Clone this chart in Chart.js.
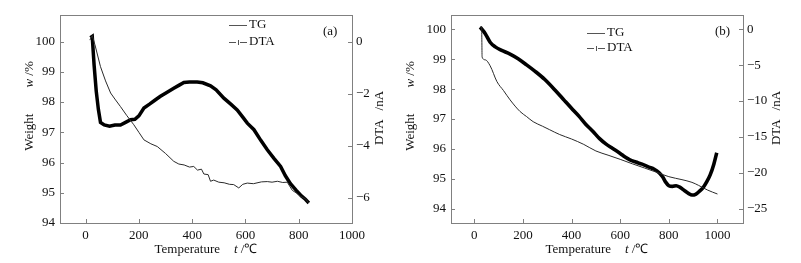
<!DOCTYPE html>
<html>
<head>
<meta charset="utf-8">
<script src="https://cdn.jsdelivr.net/npm/chart.js@4.4.1/dist/chart.umd.min.js"></script>
<style>
  html, body { margin: 0; padding: 0; background: #fff; }
  #wrap { position: relative; width: 801px; height: 263px; overflow: hidden; }
  canvas { position: absolute; top: 0; }
</style>
</head>
<body>
<div id="wrap">
  <canvas id="chartA" width="400" height="263" style="left:0"></canvas>
  <canvas id="chartB" width="401" height="263" style="left:400px"></canvas>
</div>
<script>
// Panel (a) - TG (weight %) y DTA (nA) frente a temperatura
const tgA_T = [16, 25, 35, 56, 75, 94, 110, 131, 155, 181, 200, 219, 245, 269, 300, 331, 350, 370, 390, 406, 420, 435, 444, 460, 469, 481, 500, 520, 540, 556, 575, 590, 607, 630, 660, 682, 700, 720, 740, 757, 776, 790, 807, 825, 838];
const tgA_w = [100.05, 100.2, 99.9, 99.17, 98.7, 98.3, 98.1, 97.85, 97.55, 97.25, 97.0, 96.75, 96.62, 96.53, 96.3, 96.04, 95.95, 95.92, 95.85, 95.87, 95.75, 95.78, 95.62, 95.6, 95.38, 95.42, 95.35, 95.33, 95.28, 95.27, 95.16, 95.28, 95.32, 95.3, 95.36, 95.37, 95.35, 95.38, 95.34, 95.35, 95.08, 95.0, 94.88, 94.8, 94.66];
const dtaA_T = [18, 25, 32, 40, 48, 56, 70, 90, 110, 131, 150, 169, 185, 200, 219, 240, 260, 281, 300, 331, 350, 369, 390, 419, 440, 469, 490, 519, 545, 569, 590, 607, 632, 657, 682, 707, 732, 750, 769, 790, 810, 825, 838];
const dtaA_D = [0.15, 0.2, -0.9, -1.9, -2.6, -3.1, -3.2, -3.25, -3.2, -3.2, -3.1, -3.0, -2.98, -2.85, -2.55, -2.4, -2.25, -2.1, -1.98, -1.79, -1.68, -1.57, -1.55, -1.55, -1.58, -1.7, -1.85, -2.17, -2.4, -2.62, -2.9, -3.13, -3.38, -3.78, -4.15, -4.48, -4.79, -5.15, -5.45, -5.7, -5.92, -6.05, -6.19];

// Panel (b)
const tgB_T = [24, 30, 32, 45, 65, 93, 120, 147, 188, 215, 242, 280, 310, 351, 400, 450, 500, 550, 600, 650, 700, 759, 800, 854, 895, 922, 960, 1000];
const tgB_w = [100.09, 100.05, 99.07, 98.98, 98.78, 98.25, 97.95, 97.64, 97.25, 97.08, 96.91, 96.76, 96.64, 96.48, 96.33, 96.15, 95.93, 95.79, 95.65, 95.5, 95.36, 95.19, 95.07, 94.97, 94.88, 94.78, 94.62, 94.49];
const dtaB_T = [24, 45, 65, 86, 110, 147, 180, 215, 250, 290, 338, 370, 405, 430, 460, 487, 514, 542, 569, 600, 620, 640, 664, 690, 718, 740, 760, 775, 787, 800, 815, 830, 845, 865, 882, 895, 910, 925, 940, 955, 970, 985, 997];
const dtaB_D = [0.3, -0.6, -1.8, -2.45, -2.9, -3.45, -4.1, -4.95, -5.85, -7.0, -8.7, -9.9, -11.2, -12.1, -13.3, -14.2, -15.2, -16.0, -16.6, -17.3, -17.8, -18.2, -18.5, -18.8, -19.2, -19.5, -20.0, -20.6, -21.3, -21.8, -21.9, -21.8, -22.0, -22.5, -22.9, -23.1, -23.0, -22.6, -22.1, -21.3, -20.3, -18.8, -17.2];

// Ticks
const xTicks = [0, 200, 400, 600, 800, 1000];
const yLeftTicks = [94, 95, 96, 97, 98, 99, 100];
const yRightTicksA = [-6, -4, -2, 0];
const yRightTicksB = [-25, -20, -15, -10, -5, 0];

const FONT = "'Liberation Serif', 'Times New Roman', serif";
const GRIS = "#808080";

function puntos(xs, ys) {
  return xs.map((x, i) => ({ x, y: ys[i] }));
}

// texto con partes en cursiva, centrado en (cx, cy), con rotacion opcional
function textoMixto(ctx, partes, cx, cy, rot, size) {
  ctx.save();
  ctx.translate(cx, cy);
  ctx.rotate(rot);
  ctx.textBaseline = "middle";
  ctx.fillStyle = "#111";
  let total = 0;
  partes.forEach(p => {
    ctx.font = (p.italic ? "italic " : "") + size + "px " + FONT;
    p.w = ctx.measureText(p.t).width;
    total += p.w + (p.gap || 0);
  });
  let x = -total / 2;
  partes.forEach(p => {
    ctx.font = (p.italic ? "italic " : "") + size + "px " + FONT;
    ctx.fillText(p.t, x, 0);
    x += p.w + (p.gap || 0);
  });
  ctx.restore();
}

function crearGrafico(id, cfg) {
  const marco = {
    id: "marco",
    afterDraw(chart) {
      const ctx = chart.ctx;
      const a = chart.chartArea;
      ctx.save();
      ctx.strokeStyle = GRIS;
      ctx.lineWidth = 1;
      ctx.strokeRect(Math.round(a.left) + 0.5, Math.round(a.top) + 0.5, Math.round(a.right - a.left), Math.round(a.bottom - a.top));
      // marcas hacia dentro
      ctx.beginPath();
      chart.scales.x.ticks.forEach(t => {
        const px = Math.round(chart.scales.x.getPixelForValue(t.value)) + 0.5;
        ctx.moveTo(px, a.bottom); ctx.lineTo(px, a.bottom - 4);
      });
      chart.scales.yL.ticks.forEach(t => {
        const py = Math.round(chart.scales.yL.getPixelForValue(t.value)) + 0.5;
        ctx.moveTo(a.left, py); ctx.lineTo(a.left + 4, py);
      });
      chart.scales.yR.ticks.forEach(t => {
        const py = Math.round(chart.scales.yR.getPixelForValue(t.value)) + 0.5;
        ctx.moveTo(a.right, py); ctx.lineTo(a.right - 4, py);
      });
      ctx.stroke();

      // leyenda
      const lg = cfg.leyenda;
      ctx.strokeStyle = "#555";
      ctx.lineWidth = 1;
      ctx.beginPath();
      ctx.moveTo(lg.x, lg.y1 + 0.5); ctx.lineTo(lg.x + 18, lg.y1 + 0.5);
      ctx.moveTo(lg.x, lg.y2 + 0.5); ctx.lineTo(lg.x + 7, lg.y2 + 0.5);
      ctx.moveTo(lg.x + 11, lg.y2 + 0.5); ctx.lineTo(lg.x + 18, lg.y2 + 0.5);
      ctx.moveTo(lg.x + 9.5, lg.y2 - 2); ctx.lineTo(lg.x + 9.5, lg.y2 + 3);
      ctx.stroke();
      ctx.fillStyle = "#111";
      ctx.font = "13px " + FONT;
      ctx.textBaseline = "middle";
      ctx.fillText("TG", lg.x + 20, lg.y1);
      ctx.fillText("DTA", lg.x + 20, lg.y2);
      ctx.fillText(cfg.etiqueta, cfg.etqX, 32);
      ctx.restore();

      // titulos de ejes
      textoMixto(ctx, [{ t: "Weight", gap: 26 }, { t: "w", italic: true }, { t: " /%" }], cfg.tituloIzqX, 106, -Math.PI / 2, 13);
      textoMixto(ctx, [{ t: "DTA", gap: 9 }, { t: "/nA" }], cfg.tituloDerX, 118, -Math.PI / 2, 13);
      textoMixto(ctx, [{ t: "Temperature", gap: 14 }, { t: "t", italic: true }, { t: " /\u2103" }], (a.left + a.right) / 2, 250, 0, 13);
    }
  };

  const tickFont = { family: FONT, size: 13 };
  const texto = v => String(v).replace("-", "\u2212");

  return new Chart(document.getElementById(id), {
    type: "line",
    data: {
      datasets: [
        {
          label: "TG",
          data: puntos(cfg.tgT, cfg.tgW),
          yAxisID: "yL",
          borderColor: "#2a2a2a",
          borderWidth: 1,
          pointRadius: 0,
          cubicInterpolationMode: cfg.suave ? "monotone" : "default",
          tension: 0,
        },
        {
          label: "DTA",
          data: puntos(cfg.dtaT, cfg.dtaD),
          yAxisID: "yR",
          borderColor: "#000",
          borderWidth: cfg.grosor,
          pointRadius: 0,
          cubicInterpolationMode: cfg.suave ? "monotone" : "default",
          tension: 0,
        },
      ],
    },
    options: {
      responsive: false,
      animation: false,
      events: [],
      layout: { padding: { top: 15, left: 0, right: 0, bottom: 0 } },
      plugins: { legend: { display: false }, tooltip: { enabled: false } },
      scales: {
        x: {
          type: "linear",
          position: "bottom",
          min: cfg.xMin,
          max: cfg.xMax,
          afterFit: s => { s.height = 40; },
          afterBuildTicks: s => { s.ticks = xTicks.map(v => ({ value: v })); },
          grid: { display: false, drawTicks: false },
          border: { display: false },
          ticks: { font: tickFont, color: "#111", padding: 5, maxRotation: 0, autoSkip: false, callback: texto },
        },
        yL: {
          type: "linear",
          position: "left",
          min: cfg.yLMin,
          max: cfg.yLMax,
          afterFit: s => { s.width = cfg.anchoIzq; },
          afterBuildTicks: s => { s.ticks = yLeftTicks.map(v => ({ value: v })); },
          grid: { display: false, drawTicks: false },
          border: { display: false },
          ticks: { font: tickFont, color: "#111", padding: 5, autoSkip: false, callback: texto },
        },
        yR: {
          type: "linear",
          position: "right",
          min: cfg.yRMin,
          max: cfg.yRMax,
          afterFit: s => { s.width = cfg.anchoDer; },
          afterBuildTicks: s => { s.ticks = cfg.ticksDer.map(v => ({ value: v })); },
          grid: { display: false, drawTicks: false },
          border: { display: false },
          ticks: { font: tickFont, color: "#111", padding: 4, autoSkip: false, callback: texto },
        },
      },
    },
    plugins: [marco],
  });
}

crearGrafico("chartA", {
  tgT: tgA_T, tgW: tgA_w, dtaT: dtaA_T, dtaD: dtaA_D,
  xMin: -96, xMax: 1000,
  yLMin: 94, yLMax: 100.88,
  yRMin: -6.96, yRMax: 1.02,
  ticksDer: yRightTicksA,
  anchoIzq: 60, anchoDer: 48,
  grosor: 3.5, suave: false,
  leyenda: { x: 229, y1: 25, y2: 42 },
  etiqueta: "(a)", etqX: 323,
  tituloIzqX: 30, tituloDerX: 380,
});

crearGrafico("chartB", {
  tgT: tgB_T, tgW: tgB_w, dtaT: dtaB_T, dtaD: dtaB_D,
  xMin: -96, xMax: 1105,
  yLMin: 93.52, yLMax: 100.48,
  yRMin: -27, yRMax: 2,
  ticksDer: yRightTicksB,
  anchoIzq: 51, anchoDer: 58,
  grosor: 3.6, suave: true,
  leyenda: { x: 187, y1: 33, y2: 48 },
  etiqueta: "(b)", etqX: 315,
  tituloIzqX: 11, tituloDerX: 377,
});
</script>
</body>
</html>
